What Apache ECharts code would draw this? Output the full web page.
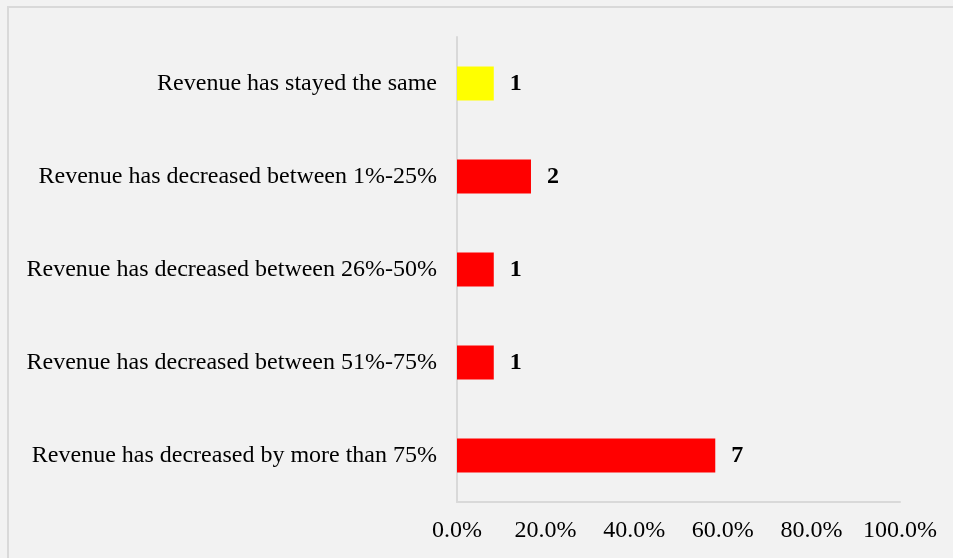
<!DOCTYPE html>
<html>
<head>
<meta charset="utf-8">
<script src="https://cdn.jsdelivr.net/npm/echarts@6/dist/echarts.min.js"></script>
<style>
  html, body { margin: 0; padding: 0; background: #f2f2f2; }
  #main { width: 953px; height: 558px; }
</style>
</head>
<body>
<div id="main"></div>
<script>
// top to bottom, as in the picture
const categories = [
  'Revenue has stayed the same',
  'Revenue has decreased between 1%-25%',
  'Revenue has decreased between 26%-50%',
  'Revenue has decreased between 51%-75%',
  'Revenue has decreased by more than 75%'
]
const percents = [8.3, 16.7, 8.3, 8.3, 58.3]
const counts = [1, 2, 1, 1, 7]
const barColors = ['#ffff00', '#ff0000', '#ff0000', '#ff0000', '#ff0000']
const xTicks = [0, 20, 40, 60, 80, 100]

const chart = echarts.init(document.getElementById('main'))

const font = 'Liberation Serif'

const option = {
  backgroundColor: '#f2f2f2',
  animation: false,
  graphic: [
    {
      type: 'rect',
      shape: { x: 8, y: 7, width: 960, height: 570 },
      style: { fill: 'none', stroke: '#d9d9d9', lineWidth: 2 },
      silent: true
    }
  ],
  grid: { left: 457, right: 53, top: 37, bottom: 56 },
  xAxis: {
    type: 'value',
    min: xTicks[0],
    max: xTicks[xTicks.length - 1],
    interval: 20,
    axisLine: { show: true, lineStyle: { color: '#d9d9d9', width: 2 } },
    axisTick: { show: false },
    splitLine: { show: false },
    axisLabel: {
      margin: 17,
      fontFamily: font,
      fontSize: 24,
      color: '#000',
      formatter: function (v) { return v.toFixed(1) + '%' }
    }
  },
  yAxis: {
    type: 'category',
    inverse: true,
    data: categories,
    axisLine: { show: true, lineStyle: { color: '#d9d9d9', width: 2 } },
    axisTick: { show: false },
    axisLabel: {
      margin: 20,
      fontFamily: font,
      fontSize: 24,
      color: '#000'
    }
  },
  series: [
    {
      type: 'bar',
      barWidth: 34,
      data: percents.map(function (v, i) {
        return { value: v, itemStyle: { color: barColors[i] } }
      }),
      label: {
        show: true,
        position: 'right',
        distance: 16,
        fontFamily: font,
        fontSize: 24,
        fontWeight: 'bold',
        color: '#000',
        formatter: function (p) { return counts[p.dataIndex] }
      }
    }
  ]
}
chart.setOption(option)
</script>
</body>
</html>
